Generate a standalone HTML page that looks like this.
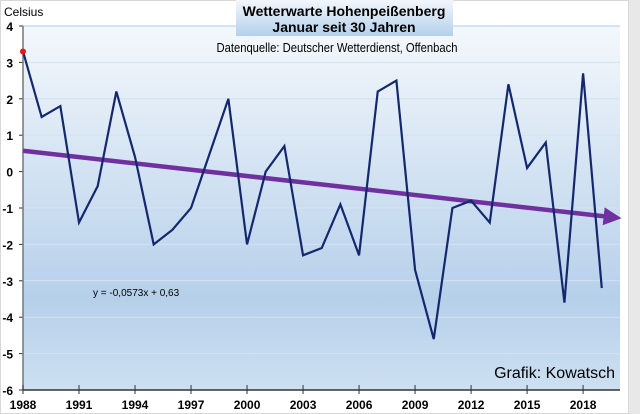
<!DOCTYPE html>
<html><head><meta charset="utf-8"><style>
body{margin:0;background:#fff}
svg{display:block;font-family:"Liberation Sans",sans-serif}
</style></head><body>
<svg width="640" height="414">
<defs>
<linearGradient id="bg" x1="0" y1="0" x2="0" y2="1">
<stop offset="0" stop-color="#f4f8fc"/><stop offset="0.75" stop-color="#b6d0ea"/><stop offset="1" stop-color="#cde0f2"/>
</linearGradient>
<linearGradient id="tb" x1="0" y1="0" x2="0" y2="1">
<stop offset="0" stop-color="#f2f7fc"/><stop offset="1" stop-color="#b4d0ec"/>
</linearGradient>
<marker id="ah" markerWidth="4" markerHeight="4" refX="2" refY="2" orient="auto" markerUnits="strokeWidth">
<path d="M0,0 L4,2 L0,4 z" fill="#7030a0"/>
</marker>
</defs>
<rect x="0.5" y="0.5" width="628" height="413" fill="#fff" stroke="#d8d8d8"/>
<rect x="629" y="0" width="11" height="414" fill="#e8e8e8"/>
<rect x="23" y="26" width="597" height="364" fill="url(#bg)"/>
<g id="grid"></g>
<g id="axes"></g>
<rect x="236" y="0" width="217" height="36" fill="url(#tb)"/>
<text x="344" y="16" text-anchor="middle" font-size="14" font-weight="bold">Wetterwarte Hohenpeißenberg</text>
<text x="344" y="32" text-anchor="middle" font-size="14" font-weight="bold">Januar  seit 30 Jahren</text>
<text x="337" y="52" text-anchor="middle" font-size="13" textLength="241" lengthAdjust="spacingAndGlyphs">Datenquelle: Deutscher Wetterdienst, Offenbach</text>
<text x="4" y="16" font-size="12">Celsius</text>
<text x="93" y="296" font-size="10">y = -0,0573x + 0,63</text>
<text x="615" y="378" text-anchor="end" font-size="16">Grafik: Kowatsch</text>
<g id="series"></g>
</svg>
<script>
const years=[1988,1989,1990,1991,1992,1993,1994,1995,1996,1997,1998,1999,2000,2001,2002,2003,2004,2005,2006,2007,2008,2009,2010,2011,2012,2013,2014,2015,2016,2017,2018,2019];
const temps=[3.3,1.5,1.8,-1.4,-0.4,2.2,0.4,-2.0,-1.6,-1.0,0.5,2.0,-2.0,0.0,0.7,-2.3,-2.1,-0.9,-2.3,2.2,2.5,-2.7,-4.6,-1.0,-0.8,-1.4,2.4,0.1,0.8,-3.6,2.7,-3.2];
const yTicks=[4,3,2,1,0,-1,-2,-3,-4,-5,-6];
const xTicks=[1988,1991,1994,1997,2000,2003,2006,2009,2012,2015,2018];
const trendSlope=-0.0573, trendIntercept=0.63;
const NS="http://www.w3.org/2000/svg";
const X=y=>23+(y-1988)*18.67;
const Y=v=>26+(4-v)*36.4;
function mk(tag,attrs,parent){const e=document.createElementNS(NS,tag);for(const k in attrs)e.setAttribute(k,attrs[k]);parent.appendChild(e);return e;}
const grid=document.getElementById('grid'),axes=document.getElementById('axes'),ser=document.getElementById('series');
yTicks.forEach(v=>{
  const g=mk('line',{x1:23,x2:620,y1:Y(v),y2:Y(v),stroke:v==4?'#a8cbe8':'#d4e2ef','stroke-width':1},grid);
  
  
  mk('line',{x1:19,x2:23,y1:Y(v),y2:Y(v),stroke:'#333'},axes);
  const t=mk('text',{x:13,y:Y(v)+5,'text-anchor':'end','font-size':12,'font-weight':'bold'},axes);
  t.textContent=v;
  
  
});
mk('line',{x1:23,x2:23,y1:26,y2:390,stroke:'#777','stroke-width':1.5},axes);
mk('line',{x1:23,x2:620,y1:390,y2:390,stroke:'#333','stroke-width':1.5},axes);
xTicks.forEach(yr=>{
  mk('line',{x1:X(yr),x2:X(yr),y1:385,y2:394,stroke:'#333'},axes);
  const t=mk('text',{x:X(yr),y:409,'text-anchor':'middle','font-size':12,'font-weight':'bold'},axes);
  t.textContent=yr;
  
  
});
const tx0=years[0], tx1=years[0]+31.9;
const tr=mk('line',{x1:X(tx0),y1:Y(trendSlope*1+trendIntercept),x2:X(tx1)-6,y2:Y(trendSlope*(tx1-years[0]+1)+trendIntercept),stroke:'#7030a0','stroke-width':4.5,'marker-end':'url(#ah)'},ser);


const pl=mk('polyline',{points:years.map((y,i)=>X(y)+','+Y(temps[i])).join(' '),fill:'none',stroke:'#14286e','stroke-width':2.2,'stroke-linejoin':'miter'},ser);


const dot=mk('circle',{cx:X(years[0]),cy:Y(temps[0]),r:3,fill:'#e8141e'},ser);


</script>
</body></html>
